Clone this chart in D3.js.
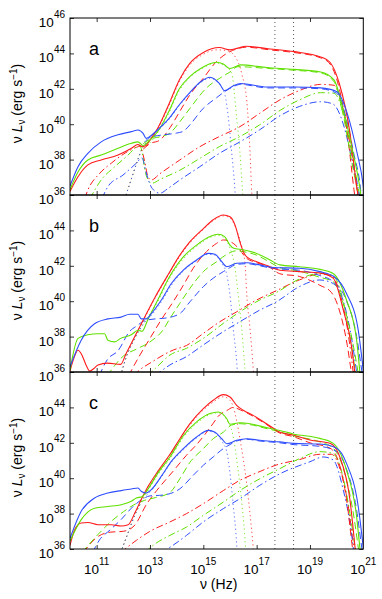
<!DOCTYPE html>
<html>
<head>
<meta charset="utf-8">
<script src="https://cdn.jsdelivr.net/npm/d3@7"></script>
<style>
  body { margin: 0; background: #fff; }
  text { font-family: "Liberation Sans", Arial, sans-serif; fill: #000; }
</style>
</head>
<body>
<div id="chart"></div>
<script>
// log10(nu) , log10(nu L_nu) pairs

// panel a
const aTotRed = [[10.0,36.2],[10.3,37.03],[10.67,37.7],[11.17,37.98],[11.8,38.26],[12.3,38.64],[12.55,38.85],[12.7,38.75],[12.85,38.8],[13.0,39.1],[13.3,39.8],[13.7,41.1],[14.1,42.5],[14.5,43.45],[15.0,44.05],[15.6,44.33],[16.0,44.2],[16.3,44.3],[16.6,44.4],[17.5,44.25],[18.4,44.1],[19.4,43.8],[19.75,43.5],[20.1,42.3],[20.5,39.5],[20.75,36.5],[20.85,35.5]];
const aTotGreen = [[10.0,36.3],[10.3,37.3],[10.67,37.98],[11.17,38.26],[11.8,38.64],[12.3,38.92],[12.55,39.0],[12.74,38.8],[12.93,39.0],[13.3,39.6],[13.7,40.7],[14.1,42.0],[14.5,42.7],[14.9,43.15],[15.5,43.5],[15.75,43.4],[16.0,43.15],[16.4,43.35],[17.4,43.2],[18.4,43.1],[19.4,42.95],[19.9,42.5],[20.25,40.8],[20.6,38.5],[20.9,36.1],[20.95,35.5]];
const aTotBlue = [[10.0,36.5],[10.3,37.6],[10.67,38.35],[11.17,39.0],[11.8,39.4],[12.3,39.58],[12.55,39.67],[12.74,39.48],[12.86,39.2],[12.99,39.3],[13.3,39.7],[13.7,40.3],[14.1,41.1],[14.5,41.8],[14.9,42.4],[15.25,42.65],[15.6,42.3],[15.8,41.9],[16.1,42.15],[16.4,42.3],[17.4,42.1],[18.4,42.1],[19.4,42.05],[20.0,41.85],[20.4,40.6],[20.75,38.5],[21.0,36.5],[21.05,35.8]];
const aDashRed = [[12.75,38.6],[13.0,38.9],[13.37,39.1],[13.75,39.8],[14.12,40.73],[14.5,41.67],[15.0,42.6],[15.5,43.55],[15.88,44.0],[16.25,44.25],[16.6,44.35],[17.5,44.2],[18.4,44.05],[19.4,43.75],[19.75,43.4],[20.1,42.0],[20.4,39.5],[20.65,36.3],[20.72,35.5]];
const aDashGreen = [[12.75,38.9],[13.0,39.15],[13.4,39.3],[13.75,39.5],[14.1,40.1],[14.5,40.9],[15.12,42.05],[15.62,42.6],[16.0,42.95],[16.3,43.25],[17.4,43.15],[18.4,43.05],[19.4,42.9],[19.9,42.4],[20.25,40.5],[20.55,38.0],[20.8,36.0],[20.85,35.5]];
const aDashBlue = [[12.8,39.0],[13.0,39.25],[13.5,39.4],[14.0,39.5],[14.25,39.6],[14.5,39.97],[15.0,40.9],[15.5,41.5],[15.81,41.85],[16.1,42.1],[16.4,42.25],[17.4,42.05],[18.4,42.05],[19.4,42.0],[20.0,41.75],[20.35,40.4],[20.65,38.3],[20.9,36.3],[20.95,35.5]];
const aDotDashRed = [[10.55,35.8],[10.67,36.28],[11.1,37.2],[11.55,37.8],[12.1,38.4],[12.5,38.7],[12.62,38.75],[12.8,37.9],[12.93,37.0],[13.05,36.85],[13.37,37.2],[14.12,37.98],[14.87,38.73],[15.6,39.3],[16.37,39.86],[17.1,40.6],[17.9,41.4],[18.6,41.9],[19.4,42.25],[19.9,42.2],[20.25,40.8],[20.6,38.0],[20.8,36.0],[20.85,35.5]];
const aDotDashGreen = [[10.75,35.8],[11.17,36.85],[11.68,37.6],[12.18,38.26],[12.5,38.73],[12.62,38.8],[12.86,37.1],[13.06,36.66],[13.4,36.9],[14.12,37.4],[14.87,38.07],[15.6,38.73],[16.37,39.3],[17.1,39.95],[17.9,40.8],[18.6,41.37],[19.4,41.78],[19.9,41.75],[20.25,40.6],[20.6,38.1],[20.85,36.0],[20.9,35.5]];
const aDotDashBlue = [[11.2,35.8],[11.42,36.47],[11.99,37.13],[12.49,37.8],[12.7,38.1],[12.85,37.3],[13.0,36.6],[13.2,36.2],[13.37,36.1],[13.7,36.4],[14.12,36.85],[14.87,37.6],[15.6,38.35],[16.37,39.0],[17.1,39.67],[17.9,40.5],[18.6,41.0],[19.4,41.27],[19.85,41.15],[20.25,40.0],[20.6,37.8],[20.85,36.0],[20.9,35.5]];
const aDiskRed = [[12.1,36.0],[12.3,36.9],[12.5,37.8],[12.7,38.6],[13.0,39.1],[13.3,39.75],[13.7,41.0],[14.1,42.4],[14.5,43.35],[15.0,43.95],[15.5,44.2],[15.9,44.15],[16.2,43.8],[16.45,42.8],[16.63,41.3],[16.75,38.5],[16.82,36.0],[16.84,35.5]];
const aDiskGreen = [[12.1,36.0],[12.3,36.9],[12.5,37.8],[12.7,38.6],[13.0,38.95],[13.3,39.55],[13.7,40.6],[14.1,41.9],[14.5,42.65],[14.9,43.1],[15.5,43.45],[15.8,43.3],[16.06,42.9],[16.25,40.35],[16.37,38.47],[16.47,36.2],[16.5,35.5]];
const aDiskBlue = [[12.1,36.0],[12.3,36.9],[12.5,37.8],[12.7,38.6],[13.0,39.2],[13.3,39.65],[13.7,40.25],[14.1,41.05],[14.5,41.75],[14.9,42.35],[15.25,42.6],[15.6,42.25],[15.81,41.67],[15.94,40.35],[16.06,38.47],[16.19,36.2],[16.22,35.5]];

// panel b
const bTotRed = [[10.0,36.05],[10.15,36.8],[10.3,37.23],[10.45,36.95],[10.6,36.4],[10.74,36.05],[10.9,36.2],[11.05,36.4],[11.4,36.5],[11.9,36.43],[12.1,37.03],[12.43,38.0],[12.8,39.1],[13.18,40.2],[13.7,41.55],[14.12,42.6],[14.5,43.36],[15.0,44.1],[15.37,44.6],[15.75,44.87],[16.0,44.77],[16.19,44.3],[16.37,43.36],[16.5,42.8],[16.63,42.5],[17.0,42.23],[17.5,41.95],[17.87,41.75],[18.6,41.67],[19.37,41.6],[19.87,41.3],[20.25,39.5],[20.56,37.43],[20.68,36.0],[20.72,35.5]];
const bTotGreen = [[10.0,36.1],[10.3,37.9],[10.67,38.1],[11.05,38.16],[11.3,38.16],[11.42,37.8],[11.68,37.7],[11.9,37.9],[12.3,38.1],[12.55,38.36],[12.7,38.3],[12.93,39.0],[13.3,40.1],[13.7,41.3],[14.25,42.5],[14.75,43.17],[15.25,43.65],[15.56,43.78],[15.8,43.65],[16.0,43.17],[16.12,43.0],[16.5,42.9],[17.0,42.7],[17.5,42.33],[17.87,42.05],[18.6,41.95],[19.37,41.8],[19.87,41.57],[20.37,40.07],[20.75,37.8],[20.87,36.0],[20.9,35.5]];
const bTotBlue = [[10.0,36.3],[10.42,37.8],[10.92,38.73],[11.42,39.0],[11.92,39.1],[12.24,39.26],[12.55,39.26],[12.67,39.0],[12.86,39.0],[13.05,39.3],[13.42,40.05],[13.8,41.0],[14.25,41.76],[14.75,42.33],[15.19,42.7],[15.44,42.65],[15.69,42.23],[15.88,41.95],[16.25,42.14],[16.63,42.17],[17.12,42.05],[17.62,41.9],[18.6,41.86],[19.37,41.67],[19.87,41.42],[20.37,40.44],[20.81,38.37],[21.0,36.1],[21.05,35.5]];
const bDashRed = [[12.2,35.8],[12.6,36.9],[13.0,37.9],[13.4,38.9],[13.87,39.97],[14.25,40.9],[14.62,41.86],[15.12,42.8],[15.5,43.27],[15.75,43.46],[16.12,43.27],[16.37,42.9],[16.6,42.45],[17.0,42.18],[17.5,41.9],[17.87,41.55],[18.6,41.4],[19.37,40.9],[19.8,40.5],[20.1,39.5],[20.4,37.5],[20.55,36.0],[20.6,35.5]];
const bDashGreen = [[11.4,35.8],[12.0,36.9],[12.5,37.3],[13.0,37.7],[13.5,38.4],[13.75,39.03],[14.12,39.88],[14.5,40.73],[15.0,41.67],[15.5,42.23],[15.94,42.7],[16.25,42.85],[16.5,42.8],[17.0,42.6],[17.5,42.2],[17.87,41.9],[18.6,41.7],[19.37,41.35],[19.87,41.1],[20.3,39.6],[20.65,37.3],[20.8,36.0],[20.85,35.5]];
const bDashBlue = [[11.1,35.8],[11.4,36.7],[11.8,37.2],[12.24,38.3],[12.5,38.6],[12.8,38.9],[13.2,39.0],[13.6,39.05],[14.12,39.3],[14.5,39.97],[15.0,40.82],[15.37,41.3],[15.75,41.67],[16.0,41.9],[16.25,42.08],[16.63,42.12],[17.12,42.0],[17.62,41.85],[18.6,41.75],[19.37,41.45],[19.87,41.1],[20.35,40.1],[20.75,38.0],[20.95,36.0],[21.0,35.5]];
const bDotDashRed = [[12.4,35.8],[12.6,36.1],[13.0,36.5],[13.87,37.24],[14.37,37.5],[15.0,38.18],[15.62,38.84],[16.25,39.4],[17.0,40.07],[17.75,40.6],[18.6,41.2],[19.37,41.53],[19.8,41.45],[20.15,40.3],[20.45,38.0],[20.62,36.0],[20.66,35.5]];
const bDotDashGreen = [[12.9,35.8],[13.2,36.2],[13.75,36.96],[14.37,37.34],[15.0,37.9],[15.75,38.75],[16.37,39.4],[17.12,40.07],[17.75,40.5],[18.6,41.25],[19.37,41.57],[19.85,41.45],[20.2,40.3],[20.5,38.0],[20.7,36.0],[20.75,35.5]];
const bDotDashBlue = [[13.2,35.8],[13.37,36.0],[13.75,36.4],[14.37,36.87],[15.0,37.53],[15.75,38.28],[16.37,38.84],[17.12,39.5],[17.75,39.97],[18.6,40.82],[19.37,41.2],[19.87,41.0],[20.25,40.0],[20.55,38.0],[20.75,36.0],[20.8,35.5]];
const bDiskRed = [[11.9,35.8],[12.1,36.8],[12.43,37.95],[12.8,39.05],[13.18,40.15],[13.7,41.5],[14.12,42.55],[14.5,43.3],[15.0,44.05],[15.37,44.55],[15.75,44.82],[16.0,44.7],[16.2,44.2],[16.4,43.3],[16.56,42.23],[16.63,40.35],[16.75,38.47],[16.87,36.2],[16.9,35.5]];
const bDiskGreen = [[11.9,35.8],[12.1,36.8],[12.43,37.9],[12.8,38.85],[13.3,40.0],[13.7,41.2],[14.25,42.4],[14.75,43.1],[15.25,43.6],[15.56,43.72],[15.8,43.55],[16.0,43.0],[16.19,41.86],[16.31,40.35],[16.44,38.47],[16.56,36.2],[16.6,35.5]];
const bDiskBlue = [[11.9,35.8],[12.1,36.8],[12.43,37.9],[12.8,38.8],[13.05,39.2],[13.42,39.95],[13.8,40.9],[14.25,41.7],[14.75,42.28],[15.19,42.65],[15.44,42.6],[15.69,42.15],[15.88,41.5],[16.0,40.35],[16.12,38.47],[16.25,36.6],[16.3,35.5]];

// panel c
const cTotRed = [[10.0,36.2],[10.18,37.1],[10.42,37.47],[10.67,37.5],[11.05,37.37],[11.55,37.37],[11.92,37.3],[12.18,37.37],[12.43,38.03],[12.67,38.79],[12.93,39.54],[13.3,40.4],[13.75,41.35],[14.12,42.23],[14.5,43.08],[15.0,43.93],[15.37,44.4],[15.75,44.72],[16.0,44.59],[16.25,44.12],[16.5,43.84],[16.87,43.55],[17.37,43.08],[17.87,42.6],[18.37,42.44],[19.0,42.16],[19.75,41.97],[20.12,41.2],[20.5,38.77],[20.69,36.1],[20.73,35.5]];
const cTotGreen = [[10.0,36.45],[10.42,37.66],[10.92,38.3],[11.42,38.4],[11.92,38.5],[12.3,38.7],[12.49,38.88],[12.7,38.95],[12.93,39.4],[13.3,40.3],[13.75,41.2],[14.25,42.4],[14.75,43.18],[15.25,43.65],[15.56,43.74],[15.88,43.36],[16.0,43.05],[16.37,43.13],[16.75,43.08],[17.25,42.9],[17.87,42.7],[18.37,42.5],[19.37,42.25],[19.87,41.97],[20.37,40.46],[20.75,37.82],[20.87,36.1],[20.92,35.5]];
const cTotBlue = [[10.0,36.6],[10.42,38.13],[10.92,38.88],[11.42,39.16],[11.92,39.3],[12.3,39.39],[12.55,39.45],[12.67,39.26],[12.86,39.16],[13.05,39.35],[13.42,40.1],[13.8,40.95],[14.25,41.67],[14.75,42.33],[15.19,42.7],[15.44,42.6],[15.69,42.23],[15.88,41.95],[16.25,42.14],[16.63,42.23],[17.12,42.14],[17.87,42.05],[18.37,41.97],[19.37,41.93],[20.0,41.69],[20.37,40.84],[20.81,38.4],[21.0,36.1],[21.05,35.5]];
const cDashRed = [[10.5,35.8],[11.0,36.65],[11.5,36.95],[12.0,37.0],[12.4,37.3],[12.9,38.6],[13.25,39.3],[13.87,40.4],[14.37,41.3],[14.75,41.9],[15.37,43.1],[15.56,43.5],[15.88,43.82],[16.12,44.0],[16.4,43.85],[16.87,43.5],[17.37,43.03],[17.87,42.55],[18.37,42.35],[19.0,42.0],[19.75,41.7],[20.1,40.8],[20.4,38.5],[20.6,36.0],[20.65,35.5]];
const cDashGreen = [[10.45,35.8],[11.1,36.9],[11.5,37.5],[12.0,38.1],[12.4,38.5],[12.8,38.75],[13.2,38.9],[13.75,39.2],[14.12,39.97],[14.5,40.9],[15.0,41.67],[15.37,42.23],[15.75,42.6],[16.06,43.0],[16.37,43.08],[16.75,43.03],[17.25,42.85],[17.87,42.62],[18.37,42.4],[19.37,42.05],[19.87,41.7],[20.3,40.3],[20.65,37.8],[20.82,36.0],[20.87,35.5]];
const cDashBlue = [[10.85,35.8],[11.1,36.5],[11.5,37.07],[11.9,37.64],[12.4,38.45],[12.7,38.8],[13.0,39.0],[13.5,39.05],[14.12,39.4],[14.62,40.16],[15.0,40.73],[15.37,41.2],[15.75,41.67],[16.0,41.9],[16.25,42.1],[16.63,42.2],[17.12,42.1],[17.87,42.0],[18.37,41.9],[19.37,41.8],[20.0,41.5],[20.35,40.6],[20.75,38.2],[20.95,36.0],[21.0,35.5]];
const cDotDashRed = [[11.9,35.8],[12.5,36.5],[13.0,37.0],[13.75,37.53],[14.37,38.0],[15.0,38.56],[15.75,39.3],[16.37,39.88],[17.0,40.3],[17.75,40.75],[18.6,41.05],[19.37,41.35],[19.8,41.35],[20.15,40.4],[20.45,38.3],[20.65,36.0],[20.7,35.5]];
const cDotDashGreen = [[12.8,35.8],[13.2,36.3],[13.75,36.77],[14.37,37.24],[15.0,37.9],[15.75,38.65],[16.37,39.3],[17.12,39.97],[17.87,40.54],[18.6,41.1],[19.37,41.5],[19.85,41.4],[20.2,40.3],[20.5,38.0],[20.7,36.0],[20.75,35.5]];
const cDotDashBlue = [[13.4,35.8],[13.75,36.1],[14.37,36.77],[15.0,37.53],[15.75,38.28],[16.37,38.84],[17.12,39.6],[17.87,40.25],[19.0,40.93],[19.5,41.2],[19.87,41.03],[20.25,39.33],[20.5,37.45],[20.62,36.1],[20.66,35.5]];
const cDiskRed = [[11.9,35.8],[12.2,37.0],[12.43,37.95],[12.67,38.7],[12.93,39.45],[13.3,40.35],[13.75,41.3],[14.12,42.18],[14.5,43.0],[15.0,43.85],[15.37,44.3],[15.75,44.6],[16.0,44.4],[16.12,44.04],[16.4,42.0],[16.6,40.0],[16.75,38.0],[16.87,36.1],[16.9,35.5]];
const cDiskGreen = [[11.9,35.8],[12.2,37.0],[12.43,37.9],[12.7,38.7],[12.93,39.3],[13.3,40.2],[13.75,41.1],[14.25,42.3],[14.75,43.1],[15.25,43.6],[15.56,43.7],[15.88,43.3],[16.1,42.5],[16.3,40.5],[16.45,38.5],[16.58,36.1],[16.6,35.5]];
const cDiskBlue = [[11.9,35.8],[12.2,37.0],[12.43,37.9],[12.7,38.7],[13.05,39.3],[13.42,40.05],[13.8,40.9],[14.25,41.6],[14.75,42.28],[15.19,42.65],[15.44,42.55],[15.69,42.1],[15.88,41.5],[16.0,40.3],[16.12,38.5],[16.25,36.3],[16.28,35.5]];

// axes
const xTicks = [11, 13, 15, 17, 19, 21];
const yTicks = [36, 38, 40, 42, 44, 46];
const bandLines = [Math.log10(4.836e17), Math.log10(2.418e18)]; // 2 and 10 keV
const panelNames = ["a", "b", "c"];

const colors = { red: "#ff1a1a", green: "#5fe000", blue: "#2e4dff" };
const styles = {
  tot: null,
  dash: "7,4",
  dotdash: "7,3,1.5,3",
  disk: "1.2,3"
};

// table for drawing
const panels = [
  { name: "a", lines: [
    ["disk","red",aDiskRed],["disk","green",aDiskGreen],["disk","blue",aDiskBlue],
    ["dotdash","red",aDotDashRed],["dotdash","green",aDotDashGreen],["dotdash","blue",aDotDashBlue],
    ["dash","red",aDashRed],["dash","green",aDashGreen],["dash","blue",aDashBlue],
    ["tot","red",aTotRed],["tot","green",aTotGreen],["tot","blue",aTotBlue]] },
  { name: "b", lines: [
    ["disk","red",bDiskRed],["disk","green",bDiskGreen],["disk","blue",bDiskBlue],
    ["dotdash","red",bDotDashRed],["dotdash","green",bDotDashGreen],["dotdash","blue",bDotDashBlue],
    ["dash","red",bDashRed],["dash","green",bDashGreen],["dash","blue",bDashBlue],
    ["tot","red",bTotRed],["tot","green",bTotGreen],["tot","blue",bTotBlue]] },
  { name: "c", lines: [
    ["disk","red",cDiskRed],["disk","green",cDiskGreen],["disk","blue",cDiskBlue],
    ["dotdash","red",cDotDashRed],["dotdash","green",cDotDashGreen],["dotdash","blue",cDotDashBlue],
    ["dash","red",cDashRed],["dash","green",cDashGreen],["dash","blue",cDashBlue],
    ["tot","red",cTotRed],["tot","green",cTotGreen],["tot","blue",cTotBlue]] }
];

const width = 382, height = 599;
const left = 70, right = 363.3;
const top0 = 18, panelH = 177;

const svg = d3.select("#chart").append("svg")
  .attr("width", width).attr("height", height);

const x = d3.scaleLinear().domain([10, 21]).range([left, right]);

panels.forEach((p, i) => {
  const pTop = top0 + i * panelH;
  const y = d3.scaleLinear().domain([36, 46]).range([pTop + panelH, pTop]);
  const g = svg.append("g");

  g.append("clipPath").attr("id", "clip" + i)
    .append("rect").attr("x", left).attr("y", pTop)
    .attr("width", right - left).attr("height", panelH);

  const line = d3.line()
    .x(d => x(d[0])).y(d => y(d[1]))
    .curve(d3.curveMonotoneX);

  const plot = g.append("g").attr("clip-path", `url(#clip${i})`);

  // 2-10 keV markers
  plot.selectAll(".band").data(bandLines).enter()
    .append("line")
    .attr("x1", d => x(d)).attr("x2", d => x(d))
    .attr("y1", pTop).attr("y2", pTop + panelH)
    .attr("stroke", "#444").attr("stroke-width", 0.9)
    .attr("stroke-dasharray", "1,3");

  plot.selectAll(".spec").data(p.lines).enter()
    .append("path")
    .attr("d", d => line(d[2]))
    .attr("fill", "none")
    .attr("stroke", d => colors[d[1]])
    .attr("stroke-width", d => d[0] === "tot" ? 1.1 : 1)
    .attr("stroke-opacity", d => d[0] === "disk" ? 0.8 : 1)
    .attr("stroke-dasharray", d => styles[d[0]]);

  // axes with inward ticks
  const yT = i === 0 ? yTicks : yTicks.slice(0, 5);
  g.append("g").attr("transform", `translate(${left},0)`)
    .call(d3.axisLeft(y).tickValues(yTicks).tickSizeInner(-4).tickSizeOuter(0).tickFormat(""));
  g.append("g").attr("transform", `translate(${right},0)`)
    .call(d3.axisRight(y).tickValues(yTicks).tickSizeInner(-4).tickSizeOuter(0).tickFormat(""));
  g.append("g").attr("transform", `translate(0,${pTop + panelH})`)
    .call(d3.axisBottom(x).tickValues(xTicks.slice(0, 5)).tickSizeInner(-4).tickSizeOuter(0).tickFormat(""));
  g.append("g").attr("transform", `translate(0,${pTop})`)
    .call(d3.axisTop(x).tickValues(xTicks.slice(0, 5)).tickSizeInner(-4).tickSizeOuter(0).tickFormat(""));
  g.selectAll(".domain").remove();
  g.selectAll(".tick line").attr("stroke", "#000").attr("stroke-width", 0.8);

  g.append("rect").attr("x", left).attr("y", pTop)
    .attr("width", right - left).attr("height", panelH)
    .attr("fill", "none").attr("stroke", "#000").attr("stroke-width", 1);

  // y tick labels
  const lab = g.selectAll(".ylab").data(yT).enter()
    .append("text")
    .attr("x", left - 5).attr("y", d => y(d) + 9)
    .attr("text-anchor", "end")
    .attr("font-size", 13.5);
  lab.append("tspan").text("10");
  lab.append("tspan").attr("dy", -9.5).attr("font-size", 10).text(d => d);

  // panel letter
  g.append("text").attr("x", 89).attr("y", pTop + 37)
    .attr("font-size", 18).text(p.name);

  // y title
  const yt = g.append("text")
    .attr("transform", `translate(22,${pTop + panelH / 2 - 3}) rotate(-90)`)
    .attr("text-anchor", "middle").attr("font-size", 14);
  yt.append("tspan").text("\u03bd ");
  yt.append("tspan").attr("font-style", "italic").text("L");
  yt.append("tspan").attr("dy", 3).attr("font-size", 10).text("\u03bd");
  yt.append("tspan").attr("dy", -3).text(" (erg s");
  yt.append("tspan").attr("dy", -5).attr("font-size", 10).text("\u22121");
  yt.append("tspan").attr("dy", 5).text(")");
});

// x tick labels
const bottom = top0 + 3 * panelH;
const xl = svg.selectAll(".xlab").data(xTicks).enter()
  .append("text")
  .attr("x", d => x(d)).attr("y", bottom + 25)
  .attr("text-anchor", "middle").attr("font-size", 13.5);
xl.append("tspan").text("10");
xl.append("tspan").attr("dy", -9.5).attr("font-size", 10).text(d => d);

svg.append("text").attr("x", (left + right) / 2 + 2).attr("y", bottom + 40)
  .attr("text-anchor", "middle").attr("font-size", 14).text("\u03bd (Hz)");
</script>
</body>
</html>
